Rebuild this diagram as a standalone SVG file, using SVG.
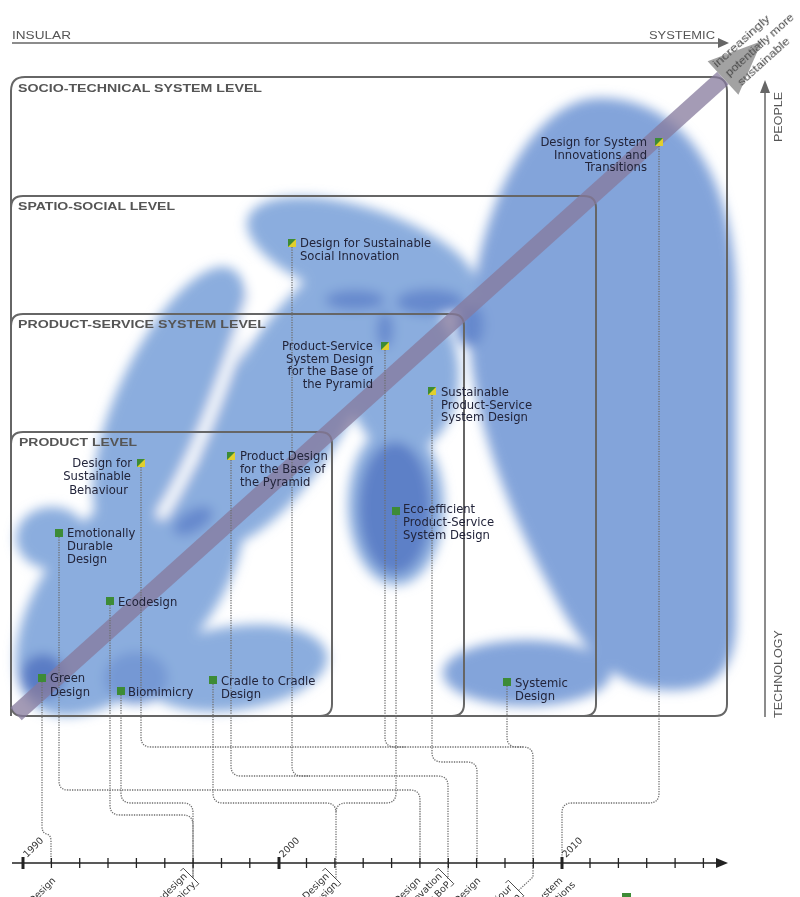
<svg xmlns="http://www.w3.org/2000/svg" xmlns:xlink="http://www.w3.org/1999/xlink" width="800" height="897" viewBox="0 0 800 897">
<style>
.frame{fill:none;stroke:#666;stroke-width:2}
.ftitle{font-family:"Liberation Sans",Arial,sans-serif;font-weight:bold;font-size:11.5px;fill:#555}
.lb{font-family:"DejaVu Sans","Liberation Sans",sans-serif;font-size:11.6px;fill:#22243a}
.ax{font-family:"Liberation Sans",Arial,sans-serif;font-size:10px;fill:#555}
.tl{font-family:"DejaVu Sans","Liberation Sans",sans-serif;font-size:9.5px;fill:#333}
.con{fill:none;stroke:#6f6f6f;stroke-width:1.3;stroke-dasharray:1.3 1.2}
.mg{fill:#3d8b36}
.blob{fill:#83a4da}
.lt{fill:#8badde}
.dk{fill:#6689cd}
.tick{stroke:#222;stroke-width:1.3}
.major{stroke:#222;stroke-width:3}
.brk{fill:none;stroke:#444;stroke-width:0.9}
</style>
<defs>
<filter id="soft" x="-20%" y="-20%" width="140%" height="140%"><feGaussianBlur stdDeviation="6"/></filter>
<g id="split"><rect x="0" y="0" width="8" height="8" fill="#e2cf2c"/><polygon points="0,0 8,0 0,8" fill="#3d8b36"/></g>
</defs>
<rect width="800" height="897" fill="#fff"/>

<!-- blobs -->
<g id="blobs" filter="url(#soft)">
<path class="blob" d="M600,98 C685,98 736,180 736,300 L736,620 C736,680 705,692 665,690 C625,688 595,665 565,615 C525,545 482,455 471,360 C462,250 520,98 600,98 Z"/>
<ellipse class="blob" cx="527" cy="673" rx="84" ry="33"/>
<ellipse class="lt" cx="362" cy="255" rx="120" ry="47" transform="rotate(18 362 255)"/>
<ellipse class="lt" cx="290" cy="400" rx="62" ry="165" transform="rotate(30 290 400)"/>
<ellipse class="lt" cx="403" cy="375" rx="56" ry="78"/>
<ellipse class="lt" cx="396" cy="505" rx="48" ry="80"/>
<ellipse class="lt" cx="170" cy="400" rx="52" ry="145" transform="rotate(25 170 400)"/>
<ellipse class="lt" cx="130" cy="590" rx="80" ry="150" transform="rotate(40 130 590)"/>
<path d="M258,282 C232,350 208,440 162,514" fill="none" stroke="#fff" stroke-width="11" stroke-linecap="round"/>
<ellipse class="lt" cx="52" cy="538" rx="36" ry="31"/>
<ellipse class="lt" cx="235" cy="668" rx="93" ry="42" transform="rotate(-8 235 668)"/>
<ellipse cx="136" cy="678" rx="32" ry="26" fill="#7598d4"/>
<ellipse cx="43" cy="676" rx="22" ry="22" fill="#5a7cc5"/>
<ellipse cx="395" cy="508" rx="36" ry="66" fill="#5d80c7"/>
<ellipse class="dk" cx="355" cy="300" rx="30" ry="10"/>
<ellipse class="dk" cx="430" cy="302" rx="34" ry="13"/>
<ellipse class="dk" cx="193" cy="521" rx="22" ry="11" transform="rotate(-30 193 521)"/>
<ellipse class="dk" cx="385" cy="330" rx="8" ry="18"/>
<ellipse class="dk" cx="470" cy="325" rx="14" ry="22"/>
</g>

<!-- level frames -->
<g id="frames">
<path class="frame" d="M11,716 V91 Q11,77 25,77 H713 Q727,77 727,91 V704 Q727,716 715,716 H23 Q11,716 11,704"/>
<path class="frame" d="M11,208 Q11,196 23,196 H584 Q596,196 596,208 V704 Q596,716 584,716"/>
<path class="frame" d="M11,326 Q11,314 23,314 H452 Q464,314 464,326 V704 Q464,716 452,716"/>
<path class="frame" d="M11,444 Q11,432 23,432 H320 Q332,432 332,444 V704 Q332,716 320,716"/>
<text class="ftitle" x="18" y="92" textLength="244" lengthAdjust="spacingAndGlyphs">SOCIO-TECHNICAL SYSTEM LEVEL</text>
<text class="ftitle" x="18" y="210" textLength="157" lengthAdjust="spacingAndGlyphs">SPATIO-SOCIAL LEVEL</text>
<text class="ftitle" x="18" y="328" textLength="248" lengthAdjust="spacingAndGlyphs">PRODUCT-SERVICE SYSTEM LEVEL</text>
<text class="ftitle" x="19" y="446" textLength="118" lengthAdjust="spacingAndGlyphs">PRODUCT LEVEL</text>
</g>

<!-- axes -->
<g id="axes">
<line x1="12" y1="43" x2="720" y2="43" stroke="#666" stroke-width="1.5"/>
<polygon points="729,43 718,38 718,48" fill="#666"/>
<text class="ax" x="12" y="39" textLength="59" lengthAdjust="spacingAndGlyphs">INSULAR</text>
<text class="ax" x="649" y="39" textLength="66" lengthAdjust="spacingAndGlyphs">SYSTEMIC</text>
<line x1="765" y1="717" x2="765" y2="92" stroke="#666" stroke-width="1.5"/>
<polygon points="765,80 760,93 770,93" fill="#666"/>
<text class="ax" transform="translate(782,142) rotate(-90)" textLength="50" lengthAdjust="spacingAndGlyphs">PEOPLE</text>
<text class="ax" transform="translate(782,718) rotate(-90)" textLength="88" lengthAdjust="spacingAndGlyphs">TECHNOLOGY</text>
</g>

<!-- sustainability arrow -->
<g id="sustainability-arrow">
<polygon points="21.7,720.3 10.3,707.7 717.3,71.7 728.7,84.3" fill="#85799c" opacity="0.75"/>
<polygon points="707.6,61.2 762,41 738.4,94.8" fill="#a2a2a2"/>
<g transform="translate(717,68) rotate(-42)" font-family="Liberation Sans,Arial,sans-serif" font-size="11" fill="#454545">
<text x="0" y="0" textLength="72" lengthAdjust="spacingAndGlyphs">increasingly</text>
<text x="3" y="15" textLength="88" lengthAdjust="spacingAndGlyphs">potentially more</text>
<text x="6" y="30" textLength="66" lengthAdjust="spacingAndGlyphs">sustainable</text>
</g>
</g>

<!-- connectors -->
<g id="connectors">
<path class="con" d="M42,682 V826 Q42,833 46.5,834 Q51,835 51,841 V863"/>
<path class="con" d="M59,537 V781 Q59,790 68,790 H410 Q420,790 420,800 V863"/>
<path class="con" d="M110,605 V805 Q110,815 120,815 H183 Q193,815 193,825 V878"/>
<path class="con" d="M121,695 V793 Q121,803 131,803 H183 Q193,803 193,813 V878"/>
<path class="con" d="M141,467 V737 Q141,747 151,747 H523 Q533,747 533,757 V877 L519,890"/>
<path class="con" d="M213,684 V793 Q213,803 223,803 H326 Q336,803 336,813 V879"/>
<path class="con" d="M396,515 V793 Q396,803 386,803 H346 Q336,803 336,813"/>
<path class="con" d="M231,460 V766 Q231,776 241,776 H438 Q448,776 448,786 V879"/>
<path class="con" d="M292,247 V766 Q292,776 302,776 H310"/>
<path class="con" d="M385,350 V737 Q385,747 395,747 H405"/>
<path class="con" d="M432,395 V752 Q432,762 442,762 H467 Q477,762 477,772 V863"/>
<path class="con" d="M507,686 V737 Q507,747 517,747 H523"/>
<path class="con" d="M659,146 V793 Q659,803 649,803 H572 Q562,803 562,813 V863"/>
</g>

<!-- nodes -->
<g id="n-green-design"><rect class="mg" x="38" y="674" width="8" height="8"/><text class="lb" x="50" y="682">Green</text><text class="lb" x="50" y="696">Design</text></g>
<g id="n-emotionally-durable"><rect class="mg" x="55" y="529" width="8" height="8"/><text class="lb" x="67" y="537">Emotionally</text><text class="lb" x="67" y="550">Durable</text><text class="lb" x="67" y="563">Design</text></g>
<g id="n-ecodesign"><rect class="mg" x="106" y="597" width="8" height="8"/><text class="lb" x="118" y="606">Ecodesign</text></g>
<g id="n-biomimicry"><rect class="mg" x="117" y="687" width="8" height="8"/><text class="lb" x="128" y="696">Biomimicry</text></g>
<g id="n-cradle"><rect class="mg" x="209" y="676" width="8" height="8"/><text class="lb" x="221" y="685">Cradle to Cradle</text><text class="lb" x="221" y="698">Design</text></g>
<g id="n-sust-behaviour"><use xlink:href="#split" x="137" y="459"/><text class="lb" text-anchor="end" x="132" y="467">Design for</text><text class="lb" text-anchor="end" x="131" y="480">Sustainable</text><text class="lb" text-anchor="end" x="128" y="494">Behaviour</text></g>
<g id="n-product-bop"><use xlink:href="#split" x="227" y="452"/><text class="lb" x="240" y="460">Product Design</text><text class="lb" x="240" y="473">for the Base of</text><text class="lb" x="240" y="486">the Pyramid</text></g>
<g id="n-social-innovation"><use xlink:href="#split" x="288" y="239"/><text class="lb" x="300" y="247">Design for Sustainable</text><text class="lb" x="300" y="260">Social Innovation</text></g>
<g id="n-pss-bop"><use xlink:href="#split" x="381" y="342"/><text class="lb" text-anchor="end" x="373" y="350">Product-Service</text><text class="lb" text-anchor="end" x="373" y="362.5">System Design</text><text class="lb" text-anchor="end" x="373" y="375">for the Base of</text><text class="lb" text-anchor="end" x="373" y="387.5">the Pyramid</text></g>
<g id="n-sust-pss"><use xlink:href="#split" x="428" y="387"/><text class="lb" x="441" y="396">Sustainable</text><text class="lb" x="441" y="408.5">Product-Service</text><text class="lb" x="441" y="421">System Design</text></g>
<g id="n-eco-efficient-pss"><rect class="mg" x="392" y="507" width="8" height="8"/><text class="lb" x="403" y="513">Eco-efficient</text><text class="lb" x="403" y="526">Product-Service</text><text class="lb" x="403" y="539">System Design</text></g>
<g id="n-systemic"><rect class="mg" x="503" y="678" width="8" height="8"/><text class="lb" x="515" y="687">Systemic</text><text class="lb" x="515" y="699.5">Design</text></g>
<g id="n-system-innovations"><use xlink:href="#split" x="655" y="138"/><text class="lb" text-anchor="end" x="647" y="146">Design for System</text><text class="lb" text-anchor="end" x="647" y="158.5">Innovations and</text><text class="lb" text-anchor="end" x="647" y="171">Transitions</text></g>

<!-- timeline -->
<g id="timeline">
<line x1="12" y1="863" x2="718" y2="863" stroke="#222" stroke-width="1.5"/>
<polygon points="728,863 716,858 716,868" fill="#222"/>
<line class="major" x1="23" y1="857" x2="23" y2="869"/>
<line class="tick" x1="51.4" y1="858" x2="51.4" y2="868"/>
<line class="tick" x1="79.7" y1="858" x2="79.7" y2="868"/>
<line class="tick" x1="108" y1="858" x2="108" y2="868"/>
<line class="tick" x1="136.4" y1="858" x2="136.4" y2="868"/>
<line class="tick" x1="164.8" y1="858" x2="164.8" y2="868"/>
<line class="tick" x1="193.1" y1="858" x2="193.1" y2="868"/>
<line class="tick" x1="221.5" y1="858" x2="221.5" y2="868"/>
<line class="tick" x1="249.8" y1="858" x2="249.8" y2="868"/>
<line class="major" x1="279" y1="857" x2="279" y2="869"/>
<line class="tick" x1="306.5" y1="858" x2="306.5" y2="868"/>
<line class="tick" x1="334.9" y1="858" x2="334.9" y2="868"/>
<line class="tick" x1="363.2" y1="858" x2="363.2" y2="868"/>
<line class="tick" x1="391.6" y1="858" x2="391.6" y2="868"/>
<line class="tick" x1="419.9" y1="858" x2="419.9" y2="868"/>
<line class="tick" x1="448.3" y1="858" x2="448.3" y2="868"/>
<line class="tick" x1="476.6" y1="858" x2="476.6" y2="868"/>
<line class="tick" x1="505" y1="858" x2="505" y2="868"/>
<line class="tick" x1="533.3" y1="858" x2="533.3" y2="868"/>
<line class="major" x1="562" y1="857" x2="562" y2="869"/>
<line class="tick" x1="590" y1="858" x2="590" y2="868"/>
<line class="tick" x1="618.4" y1="858" x2="618.4" y2="868"/>
<line class="tick" x1="646.7" y1="858" x2="646.7" y2="868"/>
<line class="tick" x1="675.1" y1="858" x2="675.1" y2="868"/>
<line class="tick" x1="703.4" y1="858" x2="703.4" y2="868"/>
<text class="tl" transform="translate(27,858) rotate(-45)">1990</text>
<text class="tl" transform="translate(283,858) rotate(-45)">2000</text>
<text class="tl" transform="translate(566,858) rotate(-45)">2010</text>
<g transform="translate(56,881) rotate(-45)"><text class="tl" text-anchor="end">Green Design</text></g>
<g transform="translate(191,876) rotate(-45)"><path class="brk" d="M-4,-11 H0 V11 H-4"/><text class="tl" text-anchor="end" x="-3" y="-2">Ecodesign</text><text class="tl" text-anchor="end" x="-3" y="10">Biomimicry</text></g>
<g transform="translate(333,876) rotate(-45)"><path class="brk" d="M-4,-11 H0 V11 H-4"/><text class="tl" text-anchor="end" x="-3" y="-2">Cradle to Cradle Design</text><text class="tl" text-anchor="end" x="-3" y="10">Eco-efficient PSS Design</text></g>
<g transform="translate(421,881) rotate(-45)"><text class="tl" text-anchor="end">Emotionally Durable Design</text></g>
<g transform="translate(446,876) rotate(-45)"><path class="brk" d="M-4,-11 H0 V11 H-4"/><text class="tl" text-anchor="end" x="-3" y="-2">Design for Social Innovation</text><text class="tl" text-anchor="end" x="-3" y="10">Product Design for BoP</text></g>
<g transform="translate(481,881) rotate(-45)"><text class="tl" text-anchor="end">Sustainable PSS Design</text></g>
<g transform="translate(516,888) rotate(-45)"><path class="brk" d="M-4,-11 H0 V11 H-4"/><text class="tl" text-anchor="end" x="-3" y="-2">Design for Sustainable Behaviour</text><text class="tl" text-anchor="end" x="-3" y="10">Systemic Design</text></g>
<g transform="translate(563,881) rotate(-45)"><text class="tl" text-anchor="end">Design for System</text><text class="tl" text-anchor="end" x="6" y="12">Innovations and Transitions</text></g>
<rect class="mg" x="622" y="893" width="9" height="9"/>
</g>
</svg>
